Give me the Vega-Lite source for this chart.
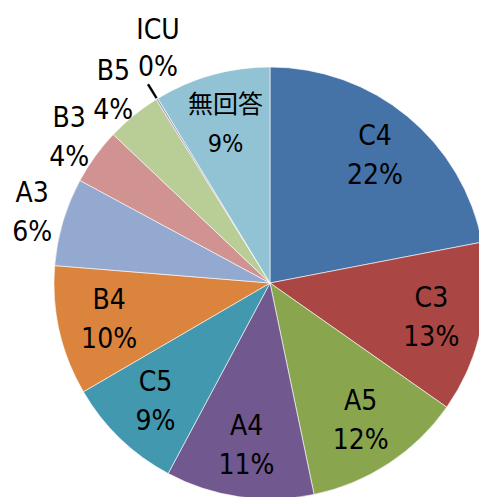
{
  "$schema": "https://vega.github.io/schema/vega-lite/v6.json",
  "width": 540,
  "height": 566,
  "padding": 0,
  "autosize": {"type": "none"},
  "background": "white",
  "view": {"stroke": null},
  "data": {
    "values": [
      {"name": "C4", "value": 22.0, "order": 1, "placement": 0, "label": "C4\n22%"},
      {"name": "C3", "value": 12.8, "order": 2, "placement": 0, "label": "C3\n13%"},
      {"name": "A5", "value": 12.0, "order": 3, "placement": 0, "label": "A5\n12%"},
      {"name": "A4", "value": 11.1, "order": 4, "placement": 0, "label": "A4\n11%"},
      {"name": "C5", "value": 8.8, "order": 5, "placement": 0, "label": "C5\n9%"},
      {"name": "B4", "value": 9.7, "order": 6, "placement": 0, "label": "B4\n10%"},
      {"name": "A3", "value": 6.6, "order": 7, "placement": 1, "label": "A3\n6%"},
      {"name": "B3", "value": 4.2, "order": 8, "placement": 1, "label": "B3\n4%"},
      {"name": "B5", "value": 4.1, "order": 9, "placement": 1, "label": "B5\n4%"},
      {"name": "ICU", "value": 0.15, "order": 10, "placement": 1, "label": "ICU\n0%"},
      {"name": "無回答", "value": 8.7, "order": 11, "placement": 0, "label": "無回答\n9%"}
    ]
  },
  "transform": [
    {"stack": "value", "groupby": [], "sort": [{"field": "order"}], "as": ["v0", "v1"]}
  ],
  "layer": [
    {
      "mark": {"type": "arc", "outerRadius": 216, "stroke": "white", "strokeWidth": 0.6},
      "encoding": {
        "theta": {"field": "value", "type": "quantitative", "stack": true},
        "order": {"field": "order", "type": "quantitative"},
        "color": {
          "field": "name",
          "type": "nominal",
          "legend": null,
          "scale": {
            "domain": ["C4", "C3", "A5", "A4", "C5", "B4", "A3", "B3", "B5", "ICU", "無回答"],
            "range": ["#4572A7", "#AA4643", "#89A54E", "#71588F", "#4198AF", "#DB843D", "#93A9CF", "#D19392", "#B9CD96", "#A99BBD", "#92C3D5"]
          }
        }
      }
    },
    {
      "mark": {"type": "text", "font": "DejaVu Sans Condensed, Noto Sans CJK JP", "lineBreak": "\n", "lineHeight": 39, "align": "center", "baseline": "middle", "color": "black", "dy": -19},
      "encoding": {
        "theta": {"field": "value", "type": "quantitative", "stack": true},
        "order": {"field": "order", "type": "quantitative"},
        "radius": {"value": {"expr": "datum.placement === 1 ? 248 : 165"}},
        "size": {"condition": {"test": "datum.name === '無回答'", "value": 25}, "value": 28},
        "text": {"condition": {"test": "datum.name === 'ICU'", "value": ""}, "field": "label", "type": "nominal"}
      }
    },
    {
      "transform": [{"filter": "datum.name === 'ICU'"}],
      "mark": {"type": "text", "font": "DejaVu Sans Condensed, Noto Sans CJK JP", "fontSize": 28, "lineBreak": "\n", "lineHeight": 37, "align": "center", "baseline": "middle", "color": "black", "radius": 262, "dx": 24, "dy": -28},
      "encoding": {
        "theta": {"field": "v1", "type": "quantitative"},
        "text": {"field": "label", "type": "nominal"}
      }
    },
    {
      "transform": [{"filter": "datum.name === 'ICU'"}],
      "mark": {"type": "arc", "innerRadius": 217, "outerRadius": 233, "fill": "black", "stroke": "black", "strokeWidth": 0.3},
      "encoding": {
        "theta": {"field": "v0", "type": "quantitative"},
        "theta2": {"field": "v1"}
      }
    }
  ]
}
